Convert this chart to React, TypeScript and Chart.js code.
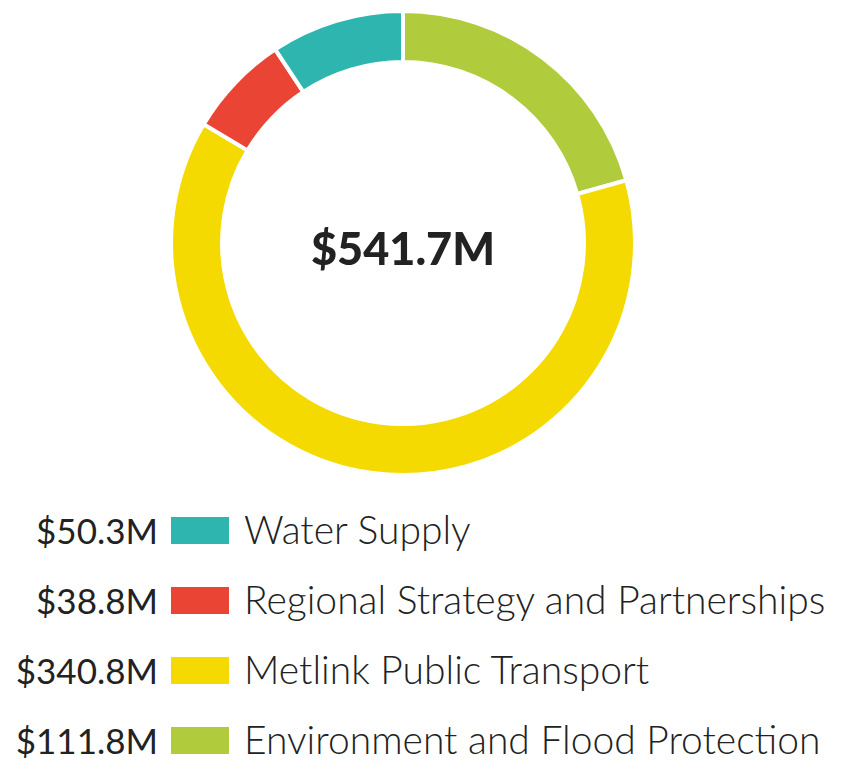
import React, { useEffect, useRef } from "react";
import { Chart, registerables } from "chart.js";

Chart.register(...registerables);

const categories = ["Water Supply", "Regional Strategy and Partnerships", "Metlink Public Transport", "Environment and Flood Protection"];
const values = [50.3, 38.8, 340.8, 111.8];
const valueLabels = ["$50.3M", "$38.8M", "$340.8M", "$111.8M"];
const colors = ["#2fb5b0", "#e94434", "#f4da00", "#b0cb3b"];
const totalLabel = "$541.7M";

const centerText = {
  id: "centerText",
  afterDraw(chart: any) {
    const { ctx } = chart;
    const meta = chart.getDatasetMeta(0);
    const arc = meta.data[0];
    if (!arc) return;
    ctx.save();
    ctx.font = "900 45px Lato, 'Open Sans', sans-serif";
    ctx.fillStyle = "#222222";
    ctx.textAlign = "center";
    ctx.textBaseline = "middle";
    ctx.fillText(totalLabel, arc.x, arc.y + 7);
    ctx.restore();
  },
};

export default function App() {
  const ref = useRef<HTMLCanvasElement>(null);
  useEffect(() => {
    if (!ref.current) return;
    // draw clockwise from top in reverse order so the ring reads counter-clockwise like the source
    const order = [3, 2, 1, 0];
    const chart = new Chart(ref.current, {
      type: "doughnut",
      data: {
        labels: order.map((i) => categories[i]),
        datasets: [
          {
            data: order.map((i) => values[i]),
            backgroundColor: order.map((i) => colors[i]),
            borderColor: "#ffffff",
            borderWidth: 4,
            hoverOffset: 0,
          },
        ],
      },
      options: {
        responsive: true,
        maintainAspectRatio: false,
        animation: false,
        cutout: "78%",
        layout: { padding: 0 },
        plugins: { legend: { display: false }, tooltip: { enabled: false } },
      },
      plugins: [centerText],
    });
    return () => chart.destroy();
  }, []);

  return (
    <div style={{ position: "relative", width: 827, height: 765, fontFamily: "Lato, 'Open Sans', sans-serif", color: "#222" }}>
      <div style={{ position: "absolute", left: 161, top: 1, width: 468, height: 468 }}>
        <canvas ref={ref} />
      </div>
      {categories.map((c, i) => (
        <div key={c} style={{ position: "absolute", left: 0, top: 531 - 8 + i * 70 - 25, height: 50, width: 827 }}>
          <div style={{ position: "absolute", right: 827 - 150, top: -1, height: 50, lineHeight: "50px", fontSize: 35, fontWeight: 400, whiteSpace: "nowrap", textAlign: "right" }}>
            {valueLabels[i]}
          </div>
          <div style={{ position: "absolute", left: 163, top: 11, width: 58, height: 27, background: colors[i] }} />
          <div style={{ position: "absolute", left: 236, top: -2, height: 50, lineHeight: "50px", fontSize: 39, fontWeight: 300, whiteSpace: "nowrap" }}>
            {c}
          </div>
        </div>
      ))}
    </div>
  );
}
